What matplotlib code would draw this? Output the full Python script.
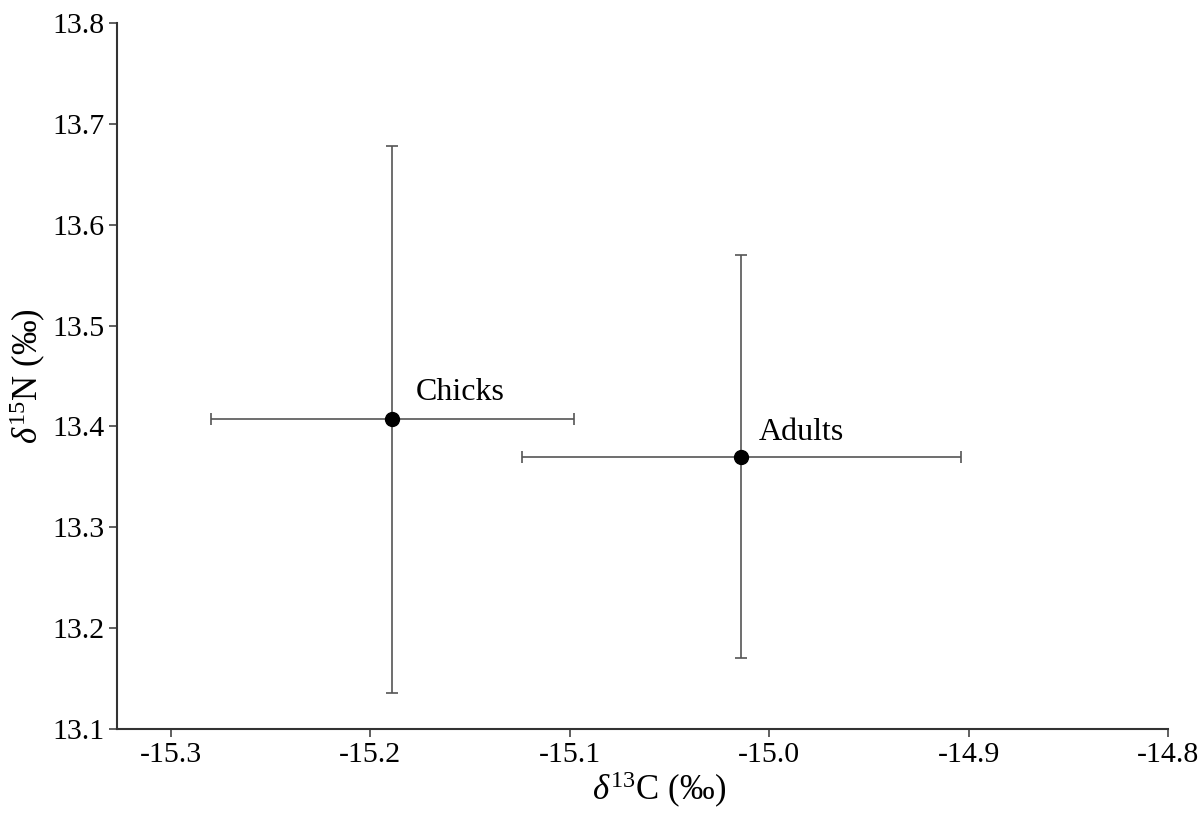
import matplotlib
matplotlib.use("Agg")
import matplotlib.pyplot as plt

groups = ["Chicks", "Adults"]
d13c_mean = [-15.189, -15.014]
d13c_err = [0.091, 0.110]
d15n_mean = [13.407, 13.370]
d15n_err = [0.271, 0.200]

xticks = [-15.3, -15.2, -15.1, -15.0, -14.9, -14.8]
yticks = [13.1, 13.2, 13.3, 13.4, 13.5, 13.6, 13.7, 13.8]

plt.rcParams['font.family'] = ['Liberation Serif', 'DejaVu Serif']
plt.rcParams['mathtext.fontset'] = 'custom'
plt.rcParams['mathtext.rm'] = 'Liberation Serif'
plt.rcParams['mathtext.it'] = 'Liberation Serif:italic'

fig = plt.figure(figsize=(12.03, 8.17), dpi=100)
ax = fig.add_axes([117/1203, 1-729/817, (1168-117)/1203, (729-23)/817])

ax.errorbar(d13c_mean, d15n_mean, xerr=d13c_err, yerr=d15n_err, fmt='none',
            ecolor='#555555', elinewidth=1.2, capsize=4, capthick=1.2, zorder=2)
ax.plot(d13c_mean, d15n_mean, 'o', color='black', markersize=10, zorder=3)

offsets = [(0.012, 0.027), (0.009, 0.024)]
for g, x, y, (dx, dy) in zip(groups, d13c_mean, d15n_mean, offsets):
    ax.text(x + dx, y + dy, g, fontsize=23, ha='left', va='center')

ax.set_xlim(-15.327, -14.8)
ax.set_ylim(13.1, 13.8)
ax.set_xticks(xticks)
ax.set_xticklabels([f"{v:.1f}" for v in xticks])
ax.set_yticks(yticks)
ax.set_yticklabels([f"{v:.1f}" for v in yticks])
ax.tick_params(labelsize=21.5, length=6, width=1.2, color='#444444', direction='out', pad=3)
for s in ['top', 'right']:
    ax.spines[s].set_visible(False)
for s in ['left', 'bottom']:
    ax.spines[s].set_linewidth(1.5)
    ax.spines[s].set_color('#333333')

ax.set_xlabel(r'$\delta^{13}$C (‰)', fontsize=25)
ax.set_ylabel(r'$\delta^{15}$N (‰)', fontsize=25)
ax.xaxis.set_label_coords(0.516, -0.058)
ax.yaxis.set_label_coords(-0.066, 0.50)

fig.savefig("out.png", dpi=100)
